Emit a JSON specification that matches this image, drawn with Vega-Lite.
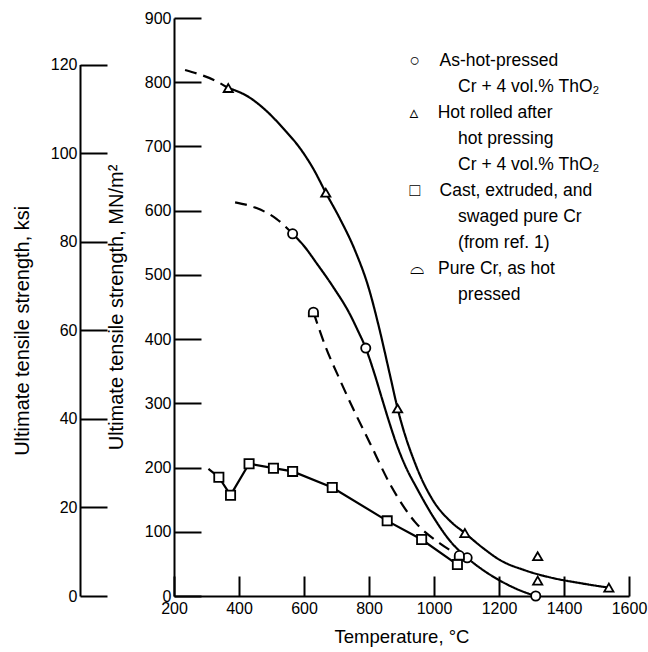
{
  "$schema": "https://vega.github.io/schema/vega-lite/v6.json",
  "width": 455,
  "height": 578,
  "autosize": {"type": "none"},
  "padding": {"left": 174, "top": 18, "right": 19, "bottom": 56},
  "background": "white",
  "config": {
    "view": {"stroke": null},
    "axis": {
      "grid": false,
      "domainColor": "black",
      "domainWidth": 2,
      "tickColor": "black",
      "tickWidth": 2,
      "labelFont": "Liberation Sans, sans-serif",
      "labelFontSize": 16,
      "labelColor": "black",
      "titleFont": "Liberation Sans, sans-serif",
      "titleFontWeight": "normal",
      "titleColor": "black",
      "labelOverlap": false,
      "labelFlush": false,
      "format": "d"
    },
    "legend": {"symbolOpacity": 0}
  },
  "datasets": {
    "curves": [
      {"series": "Hot rolled", "part": "hr-d", "style": "dashed", "T": 234, "MN": 819},
      {"series": "Hot rolled", "part": "hr-d", "style": "dashed", "T": 280, "MN": 812},
      {"series": "Hot rolled", "part": "hr-d", "style": "dashed", "T": 325, "MN": 803},
      {"series": "Hot rolled", "part": "hr-d", "style": "dashed", "T": 367, "MN": 791},
      {"series": "Hot rolled", "part": "hr-s", "style": "solid", "T": 367, "MN": 791},
      {"series": "Hot rolled", "part": "hr-s", "style": "solid", "T": 430, "MN": 777},
      {"series": "Hot rolled", "part": "hr-s", "style": "solid", "T": 485, "MN": 755},
      {"series": "Hot rolled", "part": "hr-s", "style": "solid", "T": 540, "MN": 726},
      {"series": "Hot rolled", "part": "hr-s", "style": "solid", "T": 588, "MN": 697},
      {"series": "Hot rolled", "part": "hr-s", "style": "solid", "T": 630, "MN": 664},
      {"series": "Hot rolled", "part": "hr-s", "style": "solid", "T": 667, "MN": 628},
      {"series": "Hot rolled", "part": "hr-s", "style": "solid", "T": 710, "MN": 588},
      {"series": "Hot rolled", "part": "hr-s", "style": "solid", "T": 757, "MN": 538},
      {"series": "Hot rolled", "part": "hr-s", "style": "solid", "T": 800, "MN": 478},
      {"series": "Hot rolled", "part": "hr-s", "style": "solid", "T": 830, "MN": 420},
      {"series": "Hot rolled", "part": "hr-s", "style": "solid", "T": 865, "MN": 343},
      {"series": "Hot rolled", "part": "hr-s", "style": "solid", "T": 888, "MN": 292},
      {"series": "Hot rolled", "part": "hr-s", "style": "solid", "T": 947, "MN": 200},
      {"series": "Hot rolled", "part": "hr-s", "style": "solid", "T": 998, "MN": 148},
      {"series": "Hot rolled", "part": "hr-s", "style": "solid", "T": 1049, "MN": 117},
      {"series": "Hot rolled", "part": "hr-s", "style": "solid", "T": 1095, "MN": 98},
      {"series": "Hot rolled", "part": "hr-s", "style": "solid", "T": 1150, "MN": 75},
      {"series": "Hot rolled", "part": "hr-s", "style": "solid", "T": 1203, "MN": 56},
      {"series": "Hot rolled", "part": "hr-s", "style": "solid", "T": 1280, "MN": 40},
      {"series": "Hot rolled", "part": "hr-s", "style": "solid", "T": 1357, "MN": 29},
      {"series": "Hot rolled", "part": "hr-s", "style": "solid", "T": 1450, "MN": 20},
      {"series": "Hot rolled", "part": "hr-s", "style": "solid", "T": 1538, "MN": 13},
      {"series": "As-hot-pressed", "part": "ah-d", "style": "dashed", "T": 388, "MN": 613},
      {"series": "As-hot-pressed", "part": "ah-d", "style": "dashed", "T": 454, "MN": 604},
      {"series": "As-hot-pressed", "part": "ah-d", "style": "dashed", "T": 516, "MN": 587},
      {"series": "As-hot-pressed", "part": "ah-d", "style": "dashed", "T": 565, "MN": 564},
      {"series": "As-hot-pressed", "part": "ah-s", "style": "solid", "T": 565, "MN": 564},
      {"series": "As-hot-pressed", "part": "ah-s", "style": "solid", "T": 600, "MN": 545},
      {"series": "As-hot-pressed", "part": "ah-s", "style": "solid", "T": 639, "MN": 518},
      {"series": "As-hot-pressed", "part": "ah-s", "style": "solid", "T": 690, "MN": 481},
      {"series": "As-hot-pressed", "part": "ah-s", "style": "solid", "T": 742, "MN": 438},
      {"series": "As-hot-pressed", "part": "ah-s", "style": "solid", "T": 765, "MN": 414},
      {"series": "As-hot-pressed", "part": "ah-s", "style": "solid", "T": 790, "MN": 386},
      {"series": "As-hot-pressed", "part": "ah-s", "style": "solid", "T": 815, "MN": 349},
      {"series": "As-hot-pressed", "part": "ah-s", "style": "solid", "T": 839, "MN": 309},
      {"series": "As-hot-pressed", "part": "ah-s", "style": "solid", "T": 862, "MN": 271},
      {"series": "As-hot-pressed", "part": "ah-s", "style": "solid", "T": 885, "MN": 236},
      {"series": "As-hot-pressed", "part": "ah-s", "style": "solid", "T": 915, "MN": 199},
      {"series": "As-hot-pressed", "part": "ah-s", "style": "solid", "T": 947, "MN": 168},
      {"series": "As-hot-pressed", "part": "ah-s", "style": "solid", "T": 998, "MN": 123},
      {"series": "As-hot-pressed", "part": "ah-s", "style": "solid", "T": 1049, "MN": 86},
      {"series": "As-hot-pressed", "part": "ah-s", "style": "solid", "T": 1102, "MN": 59.5},
      {"series": "As-hot-pressed", "part": "ah-s", "style": "solid", "T": 1152, "MN": 40},
      {"series": "As-hot-pressed", "part": "ah-s", "style": "solid", "T": 1203, "MN": 24},
      {"series": "As-hot-pressed", "part": "ah-s", "style": "solid", "T": 1254, "MN": 11},
      {"series": "As-hot-pressed", "part": "ah-s", "style": "solid", "T": 1313, "MN": 0},
      {"series": "Pure Cr, as hot pressed", "part": "pc-d", "style": "dashed", "T": 629, "MN": 442},
      {"series": "Pure Cr, as hot pressed", "part": "pc-d", "style": "dashed", "T": 665, "MN": 390},
      {"series": "Pure Cr, as hot pressed", "part": "pc-d", "style": "dashed", "T": 711, "MN": 336},
      {"series": "Pure Cr, as hot pressed", "part": "pc-d", "style": "dashed", "T": 748, "MN": 295},
      {"series": "Pure Cr, as hot pressed", "part": "pc-d", "style": "dashed", "T": 803, "MN": 238},
      {"series": "Pure Cr, as hot pressed", "part": "pc-d", "style": "dashed", "T": 865, "MN": 174},
      {"series": "Pure Cr, as hot pressed", "part": "pc-d", "style": "dashed", "T": 942, "MN": 115},
      {"series": "Pure Cr, as hot pressed", "part": "pc-d", "style": "dashed", "T": 1018, "MN": 82},
      {"series": "Pure Cr, as hot pressed", "part": "pc-d", "style": "dashed", "T": 1078, "MN": 63}
    ],
    "cast": [
      {"T": 306, "MN": 198},
      {"T": 338, "MN": 185},
      {"T": 374, "MN": 157},
      {"T": 431, "MN": 206},
      {"T": 506, "MN": 199},
      {"T": 565, "MN": 194},
      {"T": 687, "MN": 169},
      {"T": 856, "MN": 117},
      {"T": 962, "MN": 88},
      {"T": 1072, "MN": 49}
    ],
    "points": [
      {"series": "As-hot-pressed", "T": 565, "MN": 564},
      {"series": "As-hot-pressed", "T": 790, "MN": 386},
      {"series": "As-hot-pressed", "T": 1102, "MN": 59.5},
      {"series": "As-hot-pressed", "T": 1313, "MN": 0},
      {"series": "Hot rolled", "T": 367, "MN": 791},
      {"series": "Hot rolled", "T": 667, "MN": 628},
      {"series": "Hot rolled", "T": 888, "MN": 292},
      {"series": "Hot rolled", "T": 1095, "MN": 98},
      {"series": "Hot rolled", "T": 1319, "MN": 62},
      {"series": "Hot rolled", "T": 1319, "MN": 24},
      {"series": "Hot rolled", "T": 1538, "MN": 13},
      {"series": "Cast, extruded, swaged", "T": 338, "MN": 185},
      {"series": "Cast, extruded, swaged", "T": 374, "MN": 157},
      {"series": "Cast, extruded, swaged", "T": 431, "MN": 206},
      {"series": "Cast, extruded, swaged", "T": 506, "MN": 199},
      {"series": "Cast, extruded, swaged", "T": 565, "MN": 194},
      {"series": "Cast, extruded, swaged", "T": 687, "MN": 169},
      {"series": "Cast, extruded, swaged", "T": 856, "MN": 117},
      {"series": "Cast, extruded, swaged", "T": 962, "MN": 88},
      {"series": "Cast, extruded, swaged", "T": 1072, "MN": 49},
      {"series": "Pure Cr, as hot pressed", "T": 629, "MN": 442},
      {"series": "Pure Cr, as hot pressed", "T": 1078, "MN": 63}
    ],
    "ksi": [{"ksi": 0}, {"ksi": 120}]
  },
  "layer": [
    {
      "data": {"name": "ksi"},
      "mark": {"type": "point", "size": 0, "strokeWidth": 0},
      "encoding": {
        "y": {
          "field": "ksi",
          "type": "quantitative",
          "scale": {"domain": [0, 120], "range": [578, 46.6], "nice": false, "zero": false},
          "axis": {
            "orient": "left",
            "offset": 94,
            "values": [0, 20, 40, 60, 80, 100, 120],
            "tickSize": -27,
            "labelPadding": 30,
            "title": "Ultimate tensile strength, ksi",
            "titleFontSize": 20,
            "titlePadding": 18
          }
        }
      }
    },
    {
      "layer": [
        {
          "data": {"name": "curves"},
          "mark": {"type": "line", "interpolate": "monotone", "color": "black", "strokeWidth": 2.2},
          "encoding": {
            "x": {
              "field": "T",
              "type": "quantitative",
              "scale": {"domain": [200, 1600], "nice": false, "zero": false},
              "axis": {
                "values": [200, 400, 600, 800, 1000, 1200, 1400, 1600],
                "tickSize": -20,
                "labelPadding": 24,
                "title": "Temperature, °C",
                "titleFontSize": 18.5,
                "titlePadding": 11
              }
            },
            "y": {
              "field": "MN",
              "type": "quantitative",
              "scale": {"domain": [0, 900], "nice": false, "zero": false},
              "axis": {
                "orient": "left",
                "values": [0, 100, 200, 300, 400, 500, 600, 700, 800, 900],
                "tickSize": -27,
                "labelPadding": 30,
                "title": "Ultimate tensile strength, MN/m²",
                "titleFontSize": 20,
                "titlePadding": 18
              }
            },
            "detail": {"field": "part", "type": "nominal"},
            "strokeDash": {
              "field": "style",
              "type": "nominal",
              "scale": {"domain": ["solid", "dashed"], "range": [[1, 0], [12, 7]]},
              "legend": null
            }
          }
        },
        {
          "data": {"name": "cast"},
          "mark": {"type": "line", "interpolate": "linear", "color": "black", "strokeWidth": 2.2},
          "encoding": {
            "x": {"field": "T", "type": "quantitative"},
            "y": {"field": "MN", "type": "quantitative"}
          }
        },
        {
          "data": {"name": "points"},
          "mark": {"type": "point", "filled": false, "color": "black", "fill": "white", "stroke": "black", "strokeWidth": 1.8, "size": 85, "opacity": 1},
          "encoding": {
            "x": {"field": "T", "type": "quantitative"},
            "y": {"field": "MN", "type": "quantitative"},
            "shape": {
              "field": "series",
              "type": "nominal",
              "scale": {
                "domain": ["As-hot-pressed", "As-hot-pressed 2", "Hot rolled", "Hot rolled 2", "Hot rolled 3", "Cast, extruded, swaged", "Cast, extruded, swaged 2", "Cast, extruded, swaged 3", "Pure Cr, as hot pressed", "Pure Cr, as hot pressed 2"],
                "range": ["circle", "M0,0", "triangle-up", "M0,0", "M0,0", "square", "M0,0", "M0,0", "M-1,0.9L-1,0A1,1 0 0 1 1,0L1,0.9Z", "M0,0"]
              },
              "legend": {
                "title": null,
                "orient": "none",
                "legendX": 201,
                "legendY": 34,
                "padding": 0,
                "symbolSize": 45,
                "symbolOpacity": 0,
                "labelFont": "Liberation Sans, DejaVu Sans, sans-serif",
                "labelFontSize": 17.5,
                "labelColor": "black",
                "labelOffset": 17,
                "labelLimit": 0,
                "rowPadding": 7,
                "labelExpr": "datum.label == 'As-hot-pressed' ? '○\u00a0\u00a0\u00a0\u00a0As-hot-pressed' : datum.label == 'As-hot-pressed 2' ? '\u200b\u00a0\u00a0\u00a0\u00a0\u00a0\u00a0\u00a0\u00a0\u00a0\u00a0Cr + 4 vol.% ThO₂' : datum.label == 'Hot rolled' ? '▵\u00a0\u00a0\u00a0\u00a0Hot rolled after' : datum.label == 'Hot rolled 2' ? '\u200b\u00a0\u00a0\u00a0\u00a0\u00a0\u00a0\u00a0\u00a0\u00a0\u00a0hot pressing' : datum.label == 'Hot rolled 3' ? '\u200b\u00a0\u00a0\u00a0\u00a0\u00a0\u00a0\u00a0\u00a0\u00a0\u00a0Cr + 4 vol.% ThO₂' : datum.label == 'Cast, extruded, swaged' ? '□\u00a0\u00a0\u00a0\u00a0Cast, extruded, and' : datum.label == 'Cast, extruded, swaged 2' ? '\u200b\u00a0\u00a0\u00a0\u00a0\u00a0\u00a0\u00a0\u00a0\u00a0\u00a0swaged pure Cr' : datum.label == 'Cast, extruded, swaged 3' ? '\u200b\u00a0\u00a0\u00a0\u00a0\u00a0\u00a0\u00a0\u00a0\u00a0\u00a0(from ref. 1)' : datum.label == 'Pure Cr, as hot pressed' ? '⌓\u00a0\u00a0\u00a0Pure Cr, as hot' : '\u200b\u00a0\u00a0\u00a0\u00a0\u00a0\u00a0\u00a0\u00a0\u00a0\u00a0pressed'"
              }
            }
          }
        }
      ]
    }
  ],
  "resolve": {"scale": {"y": "independent"}, "axis": {"y": "independent"}}
}
